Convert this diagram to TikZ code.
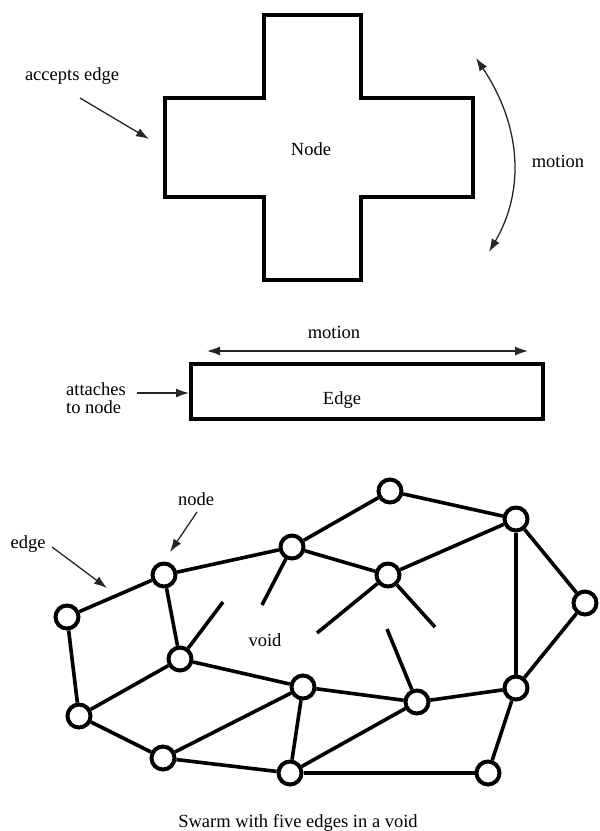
\documentclass[tikz,border=0pt]{standalone}
\usepackage{fontspec}
\setmainfont{Liberation Serif}
\usetikzlibrary{arrows.meta}
\begin{document}
\begin{tikzpicture}[x=1pt,y=-1pt,
  lbl/.style={font=\fontsize{18.5}{18}\selectfont, inner sep=0pt},
  heavybox/.style={line width=4pt, line join=miter},
  sw/.style={circle, draw, line width=4pt, minimum size=23pt, inner sep=0pt, fill=white},
  link/.style={line width=3.6pt},
  ptr/.style={line width=1.3pt, draw=black!85, -{Latex[length=13pt,width=9pt]}},
  dptr/.style={line width=1.3pt, draw=black!85, {Latex[length=13pt,width=9pt]}-{Latex[length=13pt,width=9pt]}},
]
\useasboundingbox (0,0) rectangle (600,831);

% ---------- Node (cross) ----------
\draw[heavybox] (263.5,15) -- (361,15) -- (361,98.3) -- (472.7,98.3) -- (472.7,196.7)
  -- (361,196.7) -- (361,280) -- (263.5,280) -- (263.5,196.7) -- (164.5,196.7)
  -- (164.5,98.3) -- (263.5,98.3) -- cycle;
\node[lbl] (nodetxt) at (311,149) {Node};
\node[lbl] (accepts) at (72,76) {accepts edge};
\coordinate (acc0) at (80,98);
\coordinate (acc1) at (149,139);
\draw[ptr] (acc0) -- (acc1);
\coordinate (mtop) at (476,58);
\coordinate (mbot) at (489,252);
\draw[dptr] (mtop) .. controls (521,125.3) and (525.3,190) .. (mbot);
\node[lbl] (motion1) at (558,161) {motion};

% ---------- Edge ----------
\draw[heavybox] (191,364) rectangle (543,419);
\node[lbl] (edgetxt) at (342,400) {Edge};
\node[lbl] (motion2) at (334,332) {motion};
\coordinate (ml) at (207,351);
\coordinate (mr) at (528,351);
\draw[dptr] (ml) -- (mr);
\node[lbl, align=left] (attaches) at (96,398) {attaches\\to node};
\coordinate (at0) at (137,393);
\coordinate (at1) at (189,393);
\draw[ptr] (at0) -- (at1);

% ---------- Swarm ----------
\node[sw] (A) at (67,617) {};
\node[sw] (B) at (164,575) {};
\node[sw] (C) at (292,547) {};
\node[sw] (G) at (390,491) {};
\node[sw] (H) at (516,519) {};
\node[sw] (E) at (388,575) {};
\node[sw] (I) at (585,603) {};
\node[sw] (D) at (180,659) {};
\node[sw] (J) at (79,716) {};
\node[sw] (K) at (163,758) {};
\node[sw] (L) at (303,687) {};
\node[sw] (F) at (417,702) {};
\node[sw] (N) at (516,688) {};
\node[sw] (M) at (290,773) {};
\node[sw] (O) at (488,773) {};

\draw[link] (A) -- (B);
\draw[link] (B) -- (C);
\draw[link] (C) -- (G);
\draw[link] (G) -- (H);
\draw[link] (C) -- (E);
\draw[link] (E) -- (H);
\draw[link] (H) -- (I);
\draw[link] (H) -- (N);
\draw[link] (I) -- (N);
\draw[link] (B) -- (D);
\draw[link] (A) -- (J);
\draw[link] (J) -- (D);
\draw[link] (J) -- (K);
\draw[link] (D) -- (L);
\draw[link] (K) -- (L);
\draw[link] (K) -- (M);
\draw[link] (L) -- (M);
\draw[link] (L) -- (F);
\draw[link] (F) -- (M);
\draw[link] (F) -- (N);
\draw[link] (M) -- (O);
\draw[link] (N) -- (O);

% free edges in the void
\coordinate (fD) at (223,602);
\coordinate (fC) at (262,605);
\coordinate (fE1) at (317,633);
\coordinate (fE2) at (435,627);
\coordinate (fF) at (387,629);
\draw[link] (D) -- (fD);
\draw[link] (C) -- (fC);
\draw[link] (E) -- (fE1);
\draw[link] (E) -- (fE2);
\draw[link] (F) -- (fF);

\node[lbl] (voidtxt) at (265,640) {void};
\node[lbl] (nodelbl) at (196,499) {node};
\coordinate (np0) at (197,512);
\coordinate (np1) at (170,552);
\draw[ptr] (np0) -- (np1);
\node[lbl] (edgelbl) at (28,544) {edge};
\coordinate (ep0) at (52,547);
\coordinate (ep1) at (107,588);
\draw[ptr] (ep0) -- (ep1);

\node[lbl, anchor=base] (caption) at (298,827) {Swarm with five edges in a void};
\end{tikzpicture}
\end{document}
